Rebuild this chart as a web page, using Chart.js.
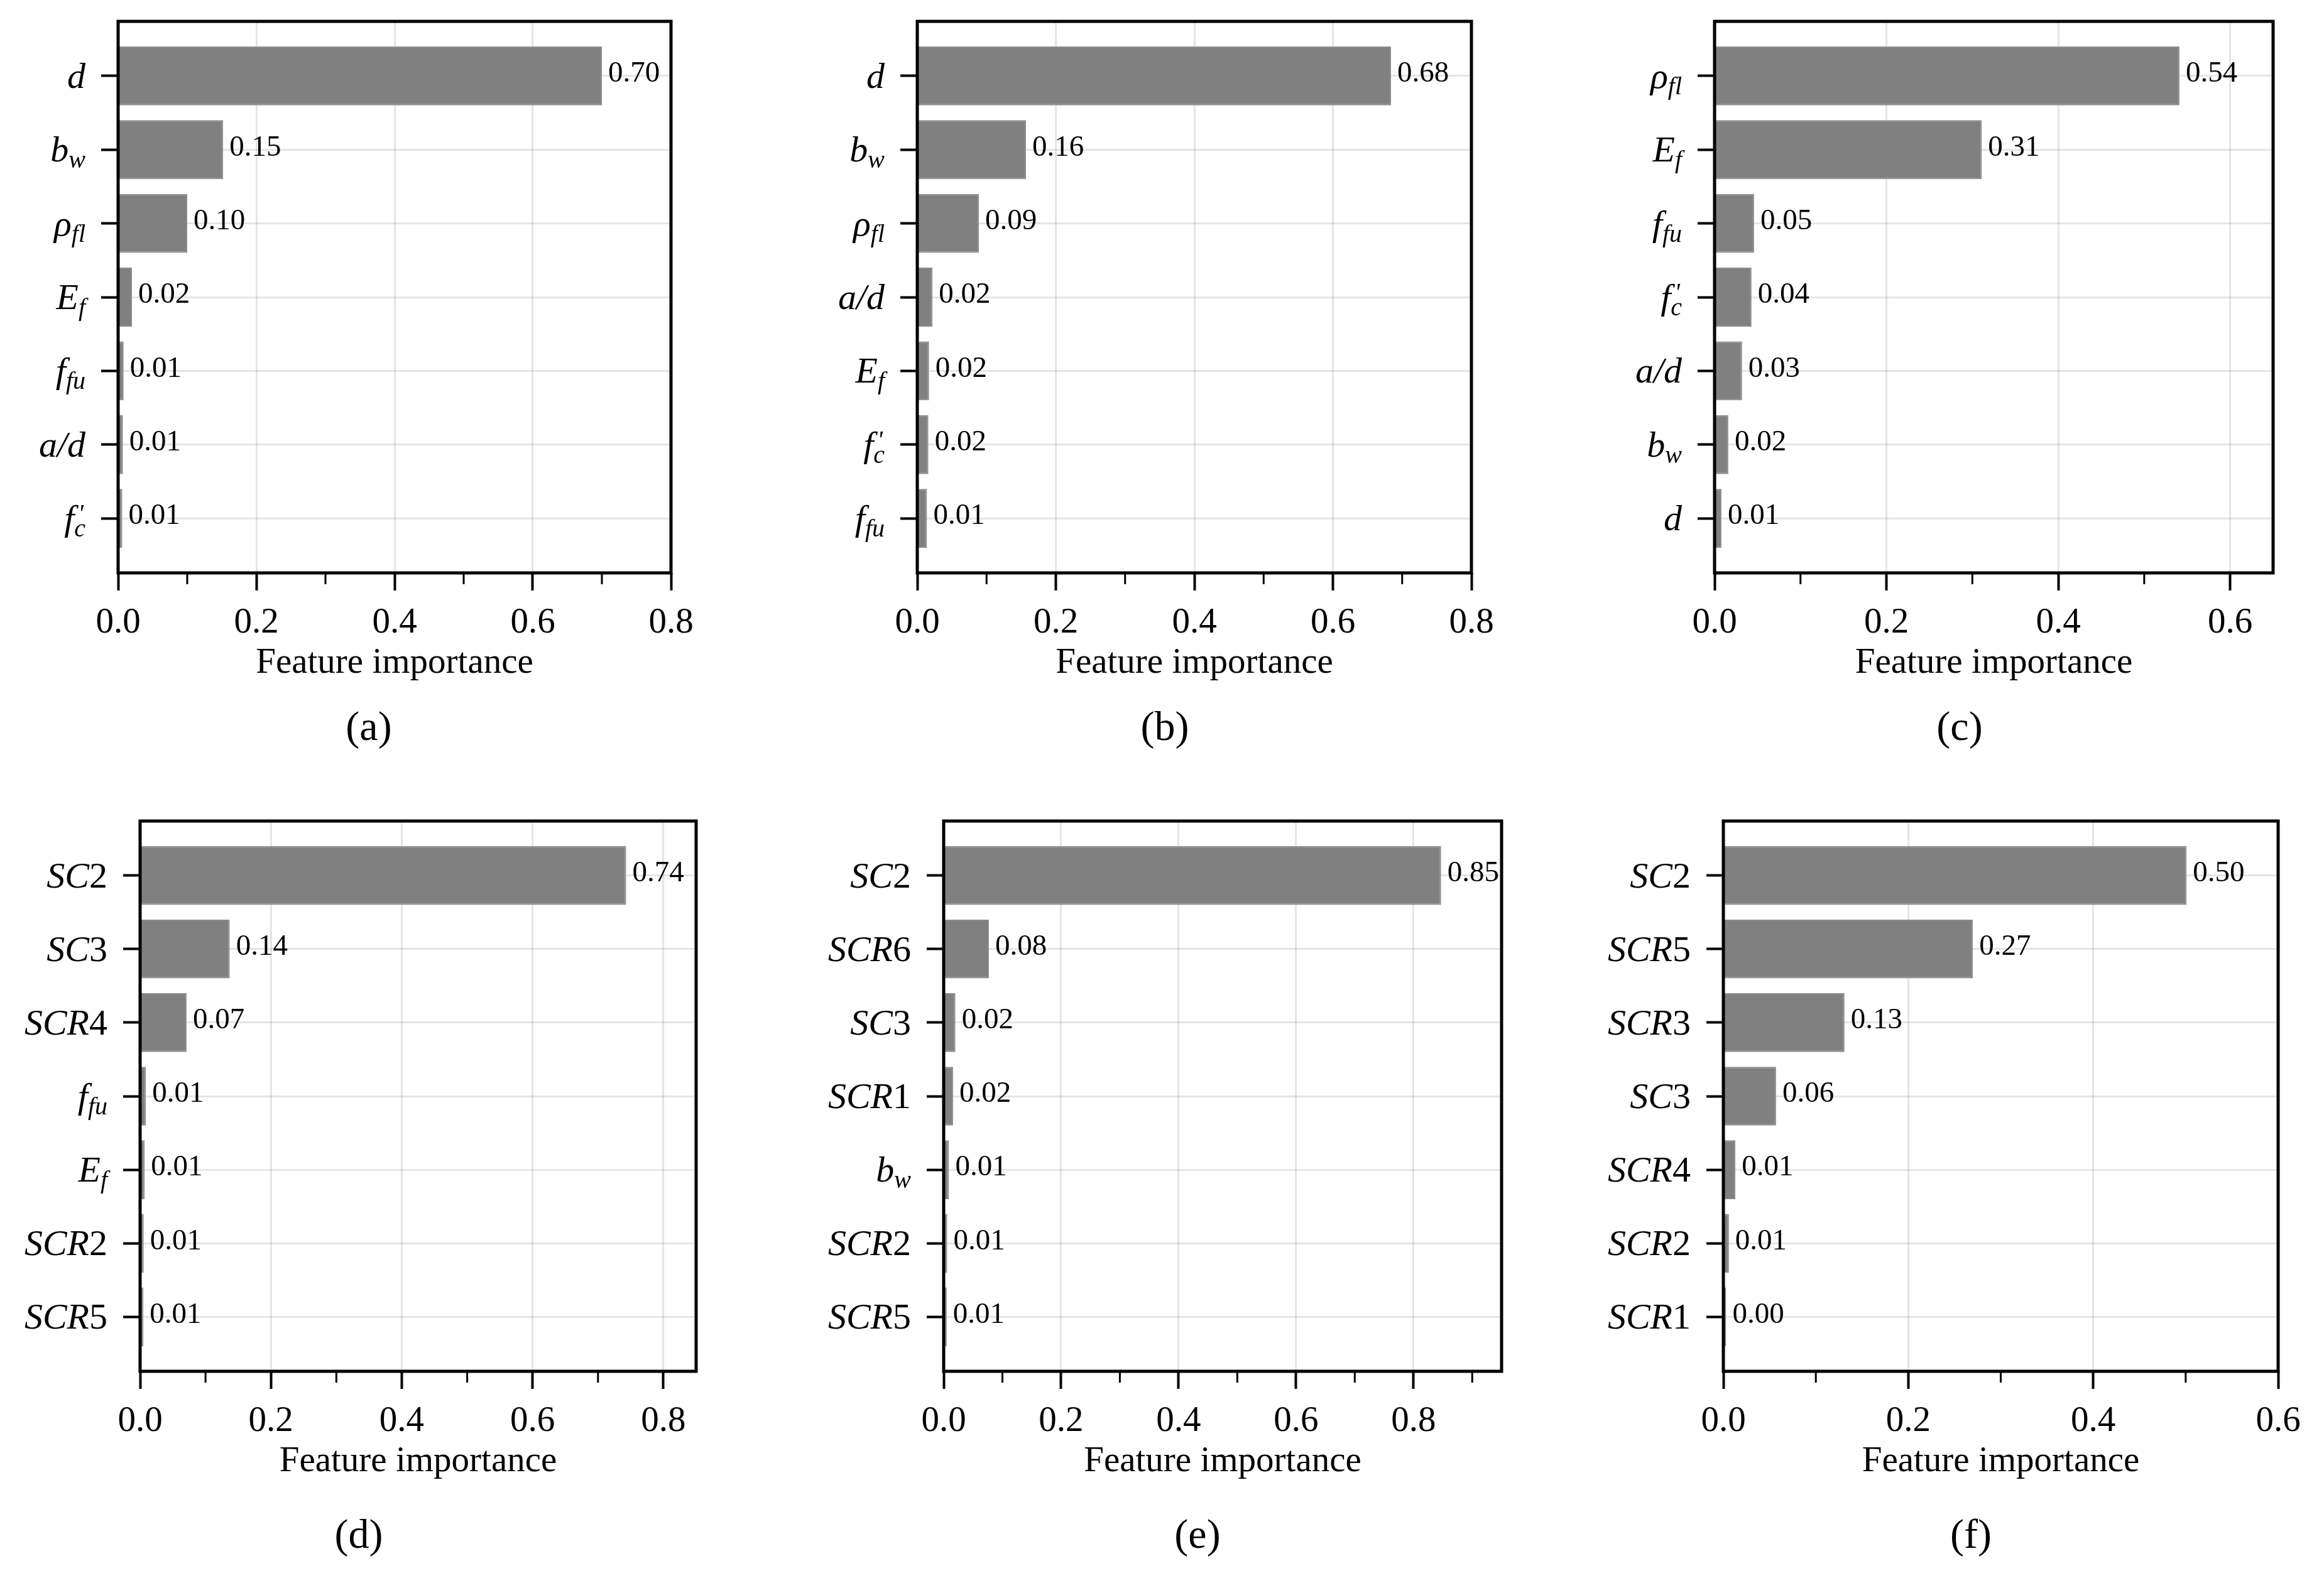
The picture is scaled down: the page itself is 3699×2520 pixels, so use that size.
<!DOCTYPE html>
<html>
<head>
<meta charset="utf-8">
<script src="https://cdn.jsdelivr.net/npm/chart.js@4.4.1/dist/chart.umd.min.js"></script>
<style>
  html, body { margin: 0; padding: 0; background: #fff; }
  body { width: 3699px; height: 2520px; position: relative; overflow: hidden; }
  canvas { position: absolute; }
  .cap { position: absolute; font: 66px 'Liberation Serif', 'Times New Roman', serif; color: #000;
         transform: translate(-50%, -50%); white-space: nowrap; }
</style>
</head>
<body>
<script>
// feature importance of each model, top row (a)-(c), bottom row (d)-(f)
const labelsA = ['d', 'b_w', 'ρ_fl', 'E_f', 'f_fu', 'a/d', "f'_c"];
const valuesA = [0.700, 0.152, 0.100, 0.020, 0.008, 0.007, 0.006];

const labelsB = ['d', 'b_w', 'ρ_fl', 'a/d', 'E_f', "f'_c", 'f_fu'];
const valuesB = [0.684, 0.157, 0.089, 0.022, 0.017, 0.016, 0.014];

const labelsC = ['ρ_fl', 'E_f', 'f_fu', "f'_c", 'a/d', 'b_w', 'd'];
const valuesC = [0.541, 0.311, 0.046, 0.043, 0.032, 0.016, 0.008];

const labelsD = ['SC2', 'SC3', 'SCR4', 'f_fu', 'E_f', 'SCR2', 'SCR5'];
const valuesD = [0.743, 0.137, 0.071, 0.009, 0.007, 0.0055, 0.0051];

const labelsE = ['SC2', 'SCR6', 'SC3', 'SCR1', 'b_w', 'SCR2', 'SCR5'];
const valuesE = [0.847, 0.077, 0.020, 0.016, 0.009, 0.006, 0.0052];

const labelsF = ['SC2', 'SCR5', 'SCR3', 'SC3', 'SCR4', 'SCR2', 'SCR1'];
const valuesF = [0.501, 0.270, 0.131, 0.057, 0.013, 0.006, 0.003];

const xLimits = [0.8, 0.8, 0.65, 0.85, 0.95, 0.6];
const captions = ['(a)', '(b)', '(c)', '(d)', '(e)', '(f)'];
const xTitle = 'Feature importance';

// plot-area boxes on the page and caption centres
const frames = [
  { left: 188,  top: 34,   right: 1068, bottom: 912,  capX: 587,  capY: 1156 },
  { left: 1460, top: 34,   right: 2342, bottom: 912,  capX: 1854, capY: 1156 },
  { left: 2729, top: 34,   right: 3618, bottom: 912,  capX: 3119, capY: 1156 },
  { left: 223,  top: 1307, right: 1108, bottom: 2183, capX: 571,  capY: 2442 },
  { left: 1502, top: 1307, right: 2390, bottom: 2183, capX: 1906, capY: 2442 },
  { left: 2743, top: 1307, right: 3626, bottom: 2183, capX: 3137, capY: 2442 }
];

const panels = [
  [labelsA, valuesA], [labelsB, valuesB], [labelsC, valuesC],
  [labelsD, valuesD], [labelsE, valuesE], [labelsF, valuesF]
];

const FONT = "'Liberation Serif', 'Times New Roman', serif";
const Y_AXIS_W = 200, X_AXIS_H = 200, PAD_TOP = 30, PAD_RIGHT = 60;
const GRID = 'rgba(0,0,0,0.1)';

const isMajor = v => Math.round(v * 10) % 2 === 0;

// italic math-style label: main part, optional prime, optional subscript
function drawMathLabel(ctx, label, xRight, yBase) {
  const m = label.match(/^([^'_]+)('?)(?:_(.+))?$/);
  const main = m[1], prime = m[2] === "'", sub = m[3] || '';
  const big = 58, small = 40;
  const runs = main.match(/\d+|\D+/g).map(t => ({
    t, font: (/\d/.test(t) ? '' : 'italic ') + big + 'px ' + FONT
  }));
  let w = 0;
  runs.forEach(r => { ctx.font = r.font; r.w = ctx.measureText(r.t).width; w += r.w; });
  ctx.font = 'italic ' + small + 'px ' + FONT;
  const subW = sub ? ctx.measureText(sub).width : 0;
  const primeW = prime ? ctx.measureText("'").width + 6 : 0;
  const extra = Math.max(subW, primeW);
  let x = xRight - w - extra;
  runs.forEach(r => { ctx.font = r.font; ctx.fillText(r.t, x, yBase); x += r.w; });
  if (prime) {
    ctx.font = 'italic ' + small + 'px ' + FONT;
    ctx.fillText("'", x + 6, yBase - 14);
  }
  if (sub) {
    ctx.font = 'italic ' + small + 'px ' + FONT;
    ctx.fillText(sub, x, yBase + 10);
  }
}

const decorPlugin = {
  id: 'decor',
  afterDatasetsDraw(chart) {
    const ctx = chart.ctx;
    const meta = chart.getDatasetMeta(0);
    const data = chart.data.datasets[0].data;
    ctx.save();
    ctx.font = '47px ' + FONT;
    ctx.fillStyle = '#000';
    ctx.textBaseline = 'middle';
    ctx.textAlign = 'left';
    meta.data.forEach((bar, i) => {
      ctx.fillText(data[i].x.toFixed(2), bar.x + 10, bar.y - 3);
    });
    ctx.restore();
  },
  afterDraw(chart, args, opts) {
    const ctx = chart.ctx;
    const area = chart.chartArea;
    const xs = chart.scales.x, ys = chart.scales.y;
    ctx.save();
    // minor ticks
    ctx.strokeStyle = '#000';
    ctx.lineWidth = 3;
    xs.ticks.forEach(t => {
      if (isMajor(t.value)) return;
      const px = xs.getPixelForValue(t.value);
      ctx.beginPath();
      ctx.moveTo(px, area.bottom);
      ctx.lineTo(px, area.bottom + 18);
      ctx.stroke();
    });
    // frame
    ctx.lineWidth = 5;
    ctx.strokeRect(area.left, area.top, area.right - area.left, area.bottom - area.top);
    // category labels
    ctx.fillStyle = '#000';
    ctx.textBaseline = 'alphabetic';
    ctx.textAlign = 'left';
    (opts.labels || []).forEach((lab, i) => {
      drawMathLabel(ctx, lab, area.left - 52, ys.getPixelForValue(i) + 19);
    });
    ctx.restore();
  }
};

panels.forEach(([labels, values], k) => {
  const f = frames[k];
  const canvas = document.createElement('canvas');
  const w = f.right - f.left + Y_AXIS_W + PAD_RIGHT;
  const h = f.bottom - f.top + PAD_TOP + X_AXIS_H;
  canvas.width = w;
  canvas.height = h;
  canvas.style.left = (f.left - Y_AXIS_W) + 'px';
  canvas.style.top = (f.top - PAD_TOP) + 'px';
  canvas.style.width = w + 'px';
  canvas.style.height = h + 'px';
  document.body.appendChild(canvas);

  const cap = document.createElement('div');
  cap.className = 'cap';
  cap.textContent = captions[k];
  cap.style.left = f.capX + 'px';
  cap.style.top = f.capY + 'px';
  document.body.appendChild(cap);

  const xMax = xLimits[k];
  new Chart(canvas.getContext('2d'), {
    type: 'bar',
    data: {
      datasets: [{
        data: values.map((v, i) => ({ x: v, y: i })),
        backgroundColor: '#808080',
        borderColor: '#8c8c8c',
        borderWidth: 2,
        borderSkipped: 'left',
        categoryPercentage: 1.0,
        barPercentage: 0.8
      }]
    },
    options: {
      indexAxis: 'y',
      responsive: false,
      animation: false,
      devicePixelRatio: 1,
      layout: { padding: { top: PAD_TOP, right: PAD_RIGHT, left: 0, bottom: 0 } },
      plugins: {
        legend: { display: false },
        tooltip: { enabled: false },
        decor: { labels: labels }
      },
      scales: {
        x: {
          type: 'linear',
          min: 0,
          max: xMax,
          afterBuildTicks: s => {
            const t = [];
            for (let i = 0; i / 10 <= xMax + 1e-9; i++) t.push({ value: i / 10 });
            s.ticks = t;
          },
          afterFit: s => { s.height = X_AXIS_H; },
          border: { display: false },
          grid: {
            color: c => (c.tick && isMajor(c.tick.value)) ? GRID : 'rgba(0,0,0,0)',
            lineWidth: 3,
            tickColor: c => (c.tick && isMajor(c.tick.value)) ? '#000' : 'rgba(0,0,0,0)',
            tickWidth: 4,
            tickLength: 28
          },
          ticks: {
            autoSkip: false,
            maxRotation: 0,
            padding: 18,
            color: '#000',
            font: { family: FONT, size: 57 },
            callback: v => isMajor(v) ? v.toFixed(1) : ''
          },
          title: {
            display: true,
            text: xTitle,
            color: '#000',
            font: { family: FONT, size: 57, lineHeight: 1.2 },
            padding: { top: 0, bottom: 22 }
          }
        },
        y: {
          type: 'linear',
          reverse: true,
          min: -0.74,
          max: labels.length - 0.26,
          offset: false,
          afterBuildTicks: s => { s.ticks = labels.map((_, i) => ({ value: i })); },
          afterFit: s => { s.width = Y_AXIS_W; },
          border: { display: false },
          grid: {
            offset: false,
            color: GRID,
            lineWidth: 3,
            tickColor: '#000',
            tickWidth: 4,
            tickLength: 27
          },
          ticks: { display: false }
        }
      }
    },
    plugins: [decorPlugin]
  });
});
</script>
</body>
</html>
